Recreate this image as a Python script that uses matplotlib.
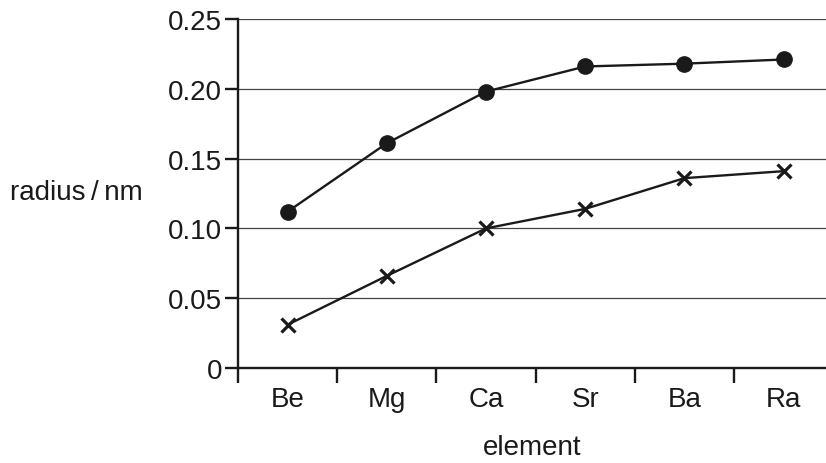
import matplotlib
matplotlib.use("Agg")
import matplotlib.pyplot as plt

elements = ["Be", "Mg", "Ca", "Sr", "Ba", "Ra"]
atomic_radius = [0.112, 0.161, 0.198, 0.216, 0.218, 0.221]
ionic_radius = [0.031, 0.066, 0.100, 0.114, 0.136, 0.141]
y_ticks = [0, 0.05, 0.10, 0.15, 0.20, 0.25]
y_tick_labels = ["0", "0.05", "0.10", "0.15", "0.20", "0.25"]

plt.rcParams['font.family'] = ['Liberation Sans', 'DejaVu Sans']

W, H = 826, 464
fig = plt.figure(figsize=(W / 100, H / 100), dpi=100)
ax = fig.add_axes([238 / W, (H - 369) / H, (826 - 238) / W, (369 - 20) / H])

x = list(range(len(elements)))
ax.set_xlim(-0.5, -0.5 + (826 - 238) / 99.2)
ax.set_ylim(0, 0.25)

for v in y_ticks[1:]:
    ax.axhline(v, color="#444444", lw=0.9, zorder=1)

ax.plot(x, atomic_radius, color="#1a1a1a", lw=1.7, marker="o", ms=11, zorder=3)
ax.plot(x, ionic_radius, color="#1a1a1a", lw=1.7, marker="x", ms=9.5, mew=2.3, zorder=3)

for s in ["top", "right"]:
    ax.spines[s].set_visible(False)
for s in ["left", "bottom"]:
    ax.spines[s].set_linewidth(1.7)
    ax.spines[s].set_color("#1a1a1a")

ax.set_yticks(y_ticks)
ax.set_yticklabels(y_tick_labels)
ax.tick_params(axis="y", length=9.5, width=1.7, color="#1a1a1a", labelsize=20, pad=2, labelcolor="#1a1a1a")

ax.set_xticks(x)
ax.set_xticklabels(elements)
ax.set_xticks([i - 0.5 for i in range(len(elements))], minor=True)
ax.tick_params(axis="x", which="major", length=0, labelsize=20, pad=13, labelcolor="#1a1a1a")
ax.tick_params(axis="x", which="minor", length=10.5, width=1.7, color="#1a1a1a")

fig.text(10 / W, 1 - 193 / H, "radius\u2009/\u2009nm", fontsize=20, va="center", ha="left", color="#1a1a1a")
fig.text(532 / W, 1 - 448 / H, "element", fontsize=20, va="center", ha="center", color="#1a1a1a")

fig.savefig("out.png", dpi=100)
